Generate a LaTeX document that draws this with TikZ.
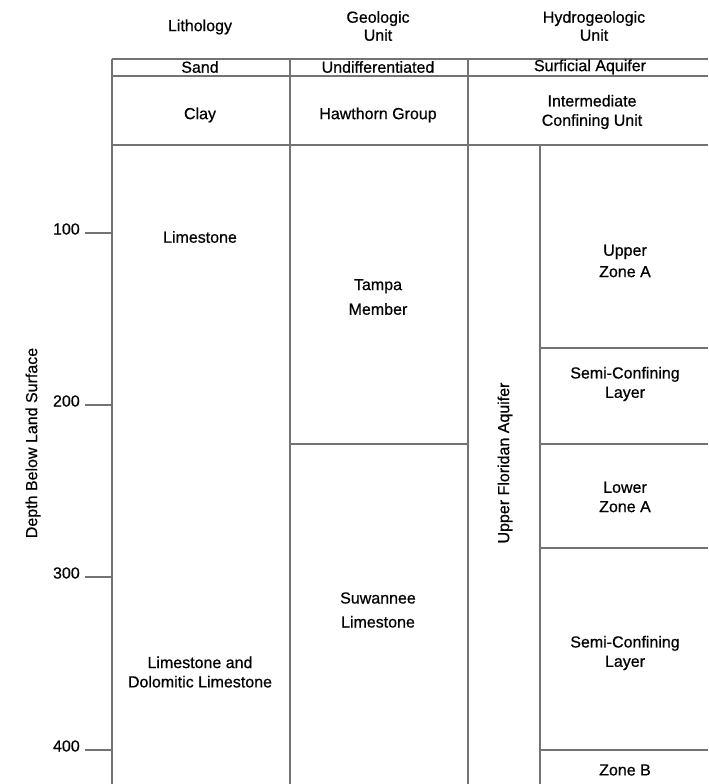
\documentclass[tikz,border=0pt]{standalone}
\usepackage{fontspec}
\setmainfont[FakeBold=0.6]{Liberation Sans}
\begin{document}
\begin{tikzpicture}[x=0.75pt,y=-0.75pt,
  grid/.style={draw={rgb,255:red,115;green,115;blue,115},line width=1.1pt},
  lbl/.style={font=\fontsize{12}{14.5}\selectfont,align=center,inner sep=0pt},
  ticklbl/.style={font=\fontsize{12}{14.5}\selectfont,anchor=east,inner sep=0pt}]
\useasboundingbox (0,0) rectangle (708,784);
% table frame
\draw[grid] (112,59) -- (708,59);
\draw[grid] (112,76) -- (708,76);
\draw[grid] (112,145) -- (708,145);
\draw[grid] (112,59) -- (112,784);
\draw[grid] (290,59) -- (290,784);
\draw[grid] (468,59) -- (468,784);
\draw[grid] (540,145) -- (540,784);
\draw[grid] (290,444) -- (468,444);
\draw[grid] (540,348) -- (708,348);
\draw[grid] (540,444) -- (708,444);
\draw[grid] (540,548) -- (708,548);
\draw[grid] (540,750) -- (708,750);
% ticks
\draw[grid] (85,233) -- (112,233);
\draw[grid] (85,405) -- (112,405);
\draw[grid] (85,577) -- (112,577);
\draw[grid] (85,750) -- (112,750);
\node[ticklbl] (t100) at (80,229) {100};
\node[ticklbl] (t200) at (80,401) {200};
\node[ticklbl] (t300) at (80,573) {300};
\node[ticklbl] (t400) at (80,746) {400};
\node[lbl,rotate=90] (depth) at (33,443) {Depth Below Land Surface};
% headers
\node[lbl,font=\fontsize{12}{13.5}\selectfont] (hlith) at (200,27) {Lithology};
\node[lbl,font=\fontsize{12}{13.5}\selectfont] (hgeo) at (378,26) {Geologic\\Unit};
\node[lbl,font=\fontsize{12}{13.5}\selectfont] (hhyd) at (594,26) {Hydrogeologic\\Unit};
% rows
\node[lbl] (sand) at (200,67) {Sand};
\node[lbl] (undiff) at (378,67) {Undifferentiated};
\node[lbl] (surf) at (590,67) {Surficial Aquifer};
\node[lbl] (clay) at (200,115) {Clay};
\node[lbl] (haw) at (378,115) {Hawthorn Group};
\node[lbl] (icu) at (592,112) {Intermediate\\Confining Unit};
\node[lbl] (lime) at (200,237) {Limestone};
\node[lbl,font=\fontsize{12}{18.5}\selectfont] (tampa) at (378,297) {Tampa\\Member};
\node[lbl,font=\fontsize{12}{18}\selectfont] (suw) at (378,610) {Suwannee\\Limestone};
\node[lbl] (dolo) at (200,672) {Limestone and\\Dolomitic Limestone};
\node[lbl,rotate=90] (ufa) at (505,463) {Upper Floridan Aquifer};
\node[lbl,font=\fontsize{12}{16}\selectfont] (upa) at (625,261) {Upper\\Zone A};
\node[lbl] (scl1) at (625,384) {Semi-Confining\\Layer};
\node[lbl] (lza) at (625,497) {Lower\\Zone A};
\node[lbl] (scl2) at (625,653) {Semi-Confining\\Layer};
\node[lbl] (zb) at (625,770) {Zone B};
\end{tikzpicture}
\end{document}
